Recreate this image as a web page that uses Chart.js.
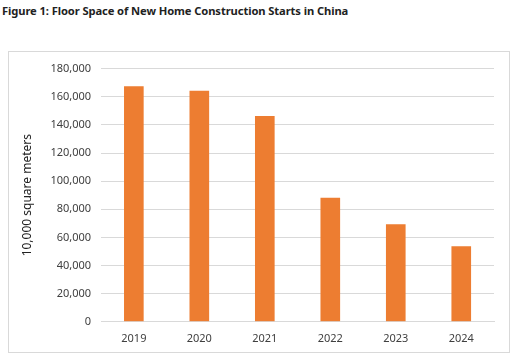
<!DOCTYPE html>
<html><head><meta charset="utf-8">
<script src="https://cdn.jsdelivr.net/npm/chart.js@4"></script>
<style>
html,body{margin:0;padding:0;background:#fff;width:512px;height:355px;overflow:hidden;}
#title{position:absolute;left:2px;top:3px;font-family:"Noto Sans",sans-serif;font-weight:bold;font-size:11.2px;color:#222;letter-spacing:-0.1px;white-space:nowrap;}
#box{position:absolute;left:8px;top:51px;width:500px;height:300px;border:1.5px solid #d9d9d9;}
#wrap{position:absolute;left:1px;top:0px;width:498px;height:303px;}
</style></head>
<body>
<div id="title">Figure 1: Floor Space of New Home Construction Starts in China</div>
<div id="box"><div id="wrap"><canvas id="c"></canvas></div></div>
<script>
const categories = ["2019","2020","2021","2022","2023","2024"];
const floorSpace = [167463, 164329, 146379, 88135, 69286, 53660];
const yAxisTitle = "10,000 square meters";

new Chart(document.getElementById('c'), {
  type: 'bar',
  data: {
    labels: categories,
    datasets: [{
      data: floorSpace,
      backgroundColor: '#ED7D31',
      borderWidth: 0,
      categoryPercentage: 1,
      barPercentage: 0.3
    }]
  },
  options: {
    responsive: true,
    maintainAspectRatio: false,
    animation: false,
    layout: { padding: { top: 6, right: 14, bottom: 0, left: 6 } },
    plugins: { legend: { display: false }, tooltip: { enabled: false } },
    scales: {
      x: {
        grid: { display: false, drawTicks: false },
        border: { display: true, color: '#d9d9d9', width: 1 },
        ticks: { color: '#404040', font: { family: 'Noto Sans', size: 11 }, padding: 10 }
      },
      y: {
        min: 0, max: 180000,
        ticks: {
          stepSize: 20000, color: '#404040', padding: 10,
          font: { family: 'Noto Sans', size: 11 },
          callback: v => v.toLocaleString('en-US')
        },
        grid: { color: '#d9d9d9', drawTicks: false },
        border: { display: false },
        title: { display: true, text: yAxisTitle, color: '#222', font: { family: 'Noto Sans', size: 12 }, padding: { bottom: 6 } }
      }
    }
  }
});
</script>
</body></html>
